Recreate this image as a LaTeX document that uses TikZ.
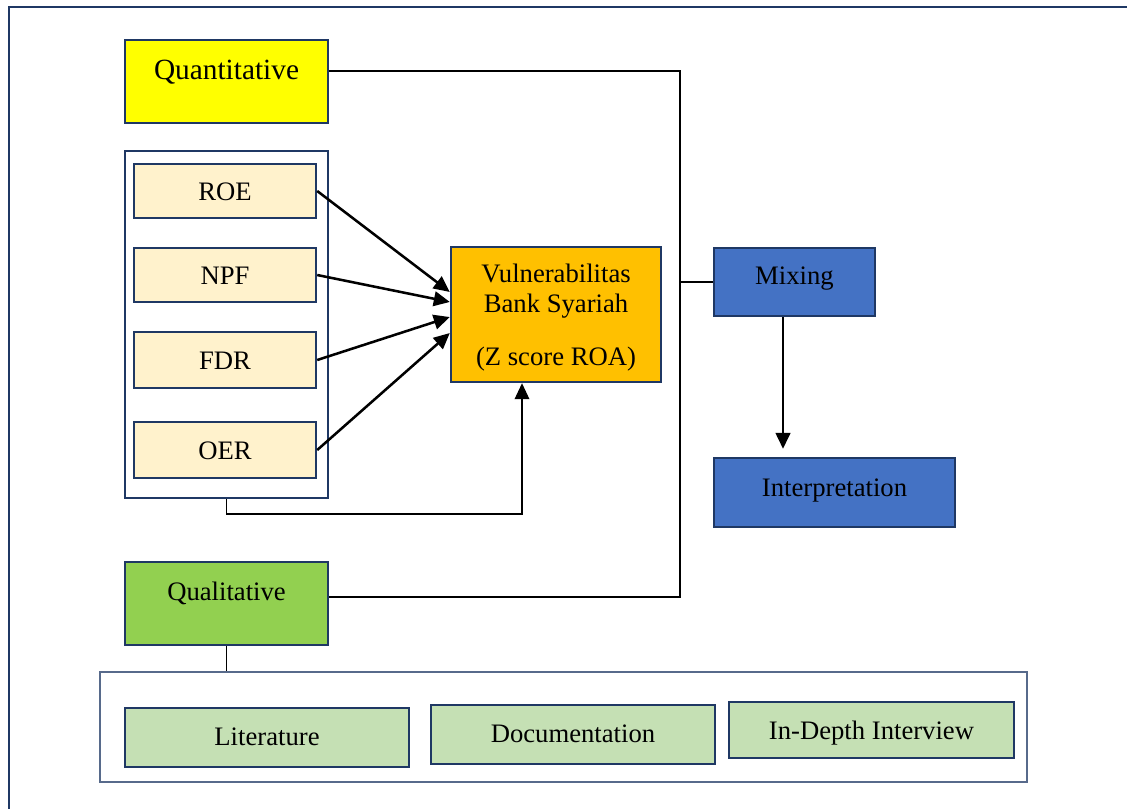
\documentclass[tikz,border=0pt]{standalone}
\usepackage{fontspec}
\setmainfont{Liberation Serif}
\usetikzlibrary{arrows.meta}
\definecolor{navy}{HTML}{1F3864}
\definecolor{quantfill}{HTML}{FFFF00}
\definecolor{varfill}{HTML}{FFF2CC}
\definecolor{vulnfill}{HTML}{FFC000}
\definecolor{mixfill}{HTML}{4472C4}
\definecolor{qualfill}{HTML}{92D050}
\definecolor{srcfill}{HTML}{C5E0B4}
\begin{document}
\begin{tikzpicture}[x=0.75pt,y=-0.75pt,
  sz/.style 2 args={minimum width=#1*0.75pt, minimum height=#2*0.75pt},
  box/.style={draw=navy, line width=1.8pt, rectangle, inner sep=0pt,
    font=\fontsize{20}{22.5}\selectfont, text height=18pt, text depth=4pt},
  group/.style={draw=navy, line width=1.5pt, fill=white, rectangle, inner sep=0pt},
  conn/.style={black, line width=1.9pt},
  thinconn/.style={black, line width=1pt},
  tip/.style={-{Triangle[length=12pt,width=11pt]}},
  arr/.style={conn, tip},
]
\useasboundingbox (0,0) rectangle (1127,808);
\clip (0,0) rectangle (1127,808);

% outer frame
\draw[navy, line width=2pt] (9,830) -- (9,7) -- (1140,7);

% quantitative side
\node[box, fill=quantfill, sz={203}{83}, font=\fontsize{22}{24}\selectfont, text depth=21pt] (quant) at (226.5,81.5) {Quantitative};
\node[group, sz={203}{347}] (grp) at (226.5,324.5) {};
\node[box, fill=varfill, sz={182}{54}] (roe) at (225,191) {ROE};
\node[box, fill=varfill, sz={182}{54}] (npf) at (225,275) {NPF};
\node[box, fill=varfill, sz={182}{56}] (fdr) at (225,360) {FDR};
\node[box, fill=varfill, sz={182}{56}] (oer) at (225,450) {OER};
\node[box, fill=vulnfill, sz={210}{135}, align=center, text height=, text depth=-1.5pt] (vuln) at (556,314.5)
  {Vulnerabilitas\\Bank Syariah\\[17pt](Z score ROA)};

% mixing and interpretation
\node[box, fill=mixfill, sz={161}{68}, text depth=14pt] (mix) at (794.5,282) {Mixing};
\node[box, fill=mixfill, sz={241}{69}, text depth=12pt] (interp) at (834.5,492.5) {Interpretation};

% qualitative side
\node[box, fill=qualfill, sz={203}{83}, text depth=22pt] (qual) at (226.5,603.5) {Qualitative};
\node[draw=navy!75, line width=0.8pt, rectangle, inner sep=0pt, sz={927}{110}] (qgrp) at (563.5,727) {};
\node[box, fill=srcfill, sz={284}{59}, text depth=6pt] (lit) at (267,737.5) {Literature};
\node[box, fill=srcfill, sz={284}{59}, text depth=6pt] (doc) at (573,734.5) {Documentation};
\node[box, fill=srcfill, sz={285}{56}, text depth=4pt] (idi) at (871.5,730) {In-Depth Interview};

% variables into vulnerability
\draw[arr] (roe.east) -- ([yshift=16.9pt]vuln.west);
\draw[arr] (npf.east) -- ([yshift=9.4pt]vuln.west);
\draw[arr] (fdr.east) -- ([yshift=-1.9pt]vuln.west);
\draw[arr] (oer.east) -- ([yshift=-13.9pt]vuln.west);

% joint effect of the variables
\coordinate (fb) at (522,514);
\draw[thinconn, tip] (grp.south) |- (fb) -- (fb |- vuln.south);

% both strands merge into mixing
\coordinate (jq) at (680,71);
\coordinate (jl) at (680,597);
\draw[conn] (quant.east |- jq) -- (jq) -- (jl) -- (qual.east |- jl);
\draw[thinconn] (jq |- mix.west) -- (mix.west);

% mixing leads to interpretation
\coordinate (ma) at (783,317);
\draw[arr, shorten >=6pt] (ma) -- (ma |- interp.north);

% qualitative sources
\draw[thinconn] (qual.south) -- (qual.south |- qgrp.north);
\end{tikzpicture}
\end{document}
